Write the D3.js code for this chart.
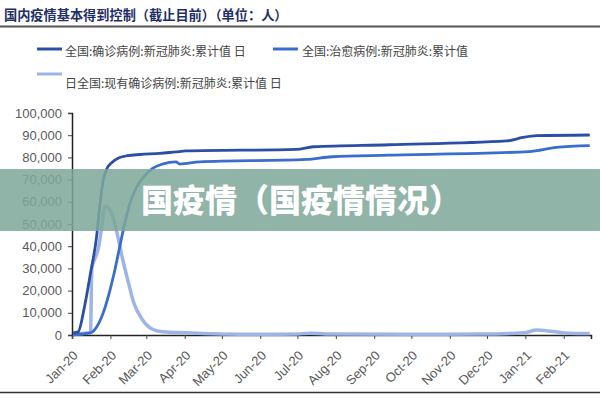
<!DOCTYPE html>
<html><head><meta charset="utf-8">
<script src="https://cdn.jsdelivr.net/npm/d3@7"></script>
<style>
html,body{margin:0;padding:0;background:#fff;}
svg{display:block;}
text{font-family:"Liberation Sans","Noto Sans CJK SC",sans-serif;}
.cjk{font-family:"Noto Sans CJK SC","Liberation Sans",sans-serif;}
</style></head>
<body>
<svg id="c" width="600" height="400"></svg>
<script>
// ---- data (dates as yyyy-mm-dd, values in persons) ----
const titleText = "国内疫情基本得到控制（截止目前）（单位：人）";
const seriesNames = [
  "全国:确诊病例:新冠肺炎:累计值 日",
  "全国:治愈病例:新冠肺炎:累计值",
  "日全国:现有确诊病例:新冠肺炎:累计值 日"
];
const bannerText = "国疫情（国疫情情况）";
const yTicks = [0,10000,20000,30000,40000,50000,60000,70000,80000,90000,100000];
const xTickLabels = ["Jan-20","Feb-20","Mar-20","Apr-20","May-20","Jun-20","Jul-20","Aug-20","Sep-20","Oct-20","Nov-20","Dec-20","Jan-21","Feb-21"];

const confirmedDates = ["2020-01-02","2020-01-06","2020-01-11","2020-01-16","2020-01-21","2020-01-23","2020-01-26","2020-01-29","2020-02-02","2020-02-08","2020-02-15","2020-02-25","2020-03-12","2020-03-25","2020-04-02","2020-06-30","2020-07-14","2020-09-13","2020-12-17","2020-12-30","2021-01-10","2021-02-22"];
const confirmedValues = [1000,1500,12500,28000,45000,56000,69000,74800,77600,79800,80800,81300,81800,82500,82900,83600,84800,85700,87400,89000,89800,90100];

const curedDates = ["2020-01-02","2020-01-16","2020-01-21","2020-01-26","2020-01-31","2020-02-04","2020-02-08","2020-02-12","2020-02-16","2020-02-21","2020-02-28","2020-03-06","2020-03-14","2020-03-25","2020-03-28","2020-04-13","2020-07-08","2020-07-29","2020-09-13","2021-01-04","2021-01-26","2021-02-22"];
const curedValues = [300,1000,3700,9700,18800,27800,38300,48800,57800,65300,71300,75000,77000,78000,77000,78000,79100,80300,81000,82600,84500,85300];

const currentDates = ["2020-01-02","2020-01-15","2020-01-16","2020-01-17","2020-01-20","2020-01-22","2020-01-25","2020-01-27","2020-01-29","2020-01-30","2020-02-03","2020-02-07","2020-02-11","2020-02-15","2020-02-20","2020-02-27","2020-03-06","2020-03-14","2020-04-02","2020-05-01","2020-06-01","2020-07-01","2020-07-11","2020-07-31","2020-09-30","2020-11-26","2020-12-31","2021-01-10","2021-01-23","2021-02-06","2021-02-22"];
const currentValues = [500,1000,1500,30000,35000,38300,48800,57000,58100,57500,53300,44300,33800,24800,14300,6800,2600,1500,1000,500,300,500,750,400,350,400,1000,2200,1600,800,700];

// ---- drawing ----
const svg = d3.select("#c");
const parse = d3.timeParse("%Y-%m-%d");
const x = d3.scaleTime().domain([parse("2020-01-01"), parse("2021-02-23")]).range([72, 591]);
const y = d3.scaleLinear().domain([0, 100000]).range([335, 113]);

// title
svg.append("text").attr("class","cjk").attr("x",4).attr("y",20)
  .attr("font-size",13.2).attr("font-weight","bold").attr("fill","#1f2f66").text(titleText);
svg.append("line").attr("x1",0).attr("x2",600).attr("y1",26.5).attr("y2",26.5)
  .attr("stroke","#555").attr("stroke-width",2);

// legend
const colors = ["#2c4fa6","#3a6dcc","#9fb4e6"];
const legendPos = [{sx:37,sy:49,tx:65,ty:56},{sx:273,sy:49,tx:302,ty:56},{sx:37,sy:74,tx:65,ty:88}];
legendPos.forEach((p,i)=>{
  svg.append("line").attr("x1",p.sx).attr("x2",p.sx+25).attr("y1",p.sy).attr("y2",p.sy)
    .attr("stroke",colors[i]).attr("stroke-width",3);
  svg.append("text").attr("class","cjk").attr("x",p.tx).attr("y",p.ty).attr("font-size",12)
    .attr("fill","#444").text(seriesNames[i]);
});

// y axis
const yAxis = d3.axisLeft(y).tickValues(yTicks).tickSize(4).tickPadding(6)
  .tickFormat(d3.format(","));
const gy = svg.append("g").attr("transform","translate(72,0)").call(yAxis);
gy.select(".domain").attr("stroke","#222").attr("stroke-width",1.5);
gy.selectAll(".tick line").attr("stroke","#444");
gy.selectAll(".tick text").attr("font-size",13).attr("fill","#5a5a5a")
  .attr("font-family","Liberation Sans, Arial, sans-serif");

// x axis
const monthTicks = xTickLabels.map((d,i)=> new Date(2020, i, 1));
const xAxis = d3.axisBottom(x).tickValues(monthTicks).tickSize(4)
  .tickFormat((d,i)=>xTickLabels[i]);
const gx = svg.append("g").attr("transform","translate(0,335)").call(xAxis);
gx.select(".domain").attr("stroke","#222").attr("stroke-width",1.5);
gx.selectAll(".tick line").attr("stroke","#444");
gx.selectAll(".tick text").attr("font-size",13).attr("fill","#5a5a5a")
  .attr("font-family","Liberation Sans, Arial, sans-serif")
  .attr("text-anchor","end").attr("y",0).attr("dy","0.35em")
  .attr("transform","translate(3,18) rotate(-45)");

// lines
const line = d3.line().x(d=>x(d[0])).y(d=>y(d[1])).curve(d3.curveMonotoneX);
const toPts = (ds,vs)=> ds.map((d,i)=>[parse(d), vs[i]]);
svg.append("path").datum(toPts(currentDates,currentValues)).attr("d",line)
  .attr("fill","none").attr("stroke",colors[2]).attr("stroke-width",3.5);
svg.append("path").datum(toPts(curedDates,curedValues)).attr("d",line)
  .attr("fill","none").attr("stroke",colors[1]).attr("stroke-width",2.8);
svg.append("path").datum(toPts(confirmedDates,confirmedValues)).attr("d",line)
  .attr("fill","none").attr("stroke",colors[0]).attr("stroke-width",2.8);

// banner overlay
svg.append("rect").attr("x",0).attr("y",169).attr("width",600).attr("height",62)
  .attr("fill","#7ea89a").attr("fill-opacity",0.86);
svg.append("text").attr("class","cjk").attr("x",301).attr("y",212).attr("text-anchor","middle")
  .attr("font-size",32).attr("font-weight",900).attr("fill","#fff").text(bannerText);

// bottom rule
svg.append("line").attr("x1",0).attr("x2",600).attr("y1",392.5).attr("y2",392.5)
  .attr("stroke","#333").attr("stroke-width",1.5);
</script>
</body></html>
